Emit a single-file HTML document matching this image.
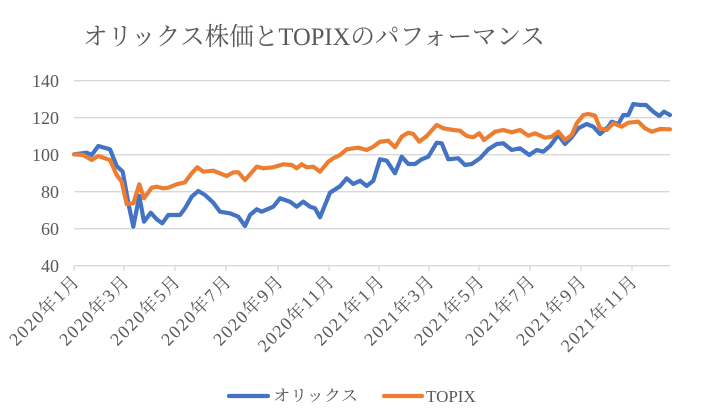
<!DOCTYPE html>
<html><head><meta charset="utf-8"><style>
html,body{margin:0;padding:0;background:#fff;}
svg{display:block;}
text{font-family:"Liberation Serif","Noto Serif CJK JP",serif;fill:#595959;}
</style></head><body>
<svg width="703" height="418" viewBox="0 0 703 418" xmlns="http://www.w3.org/2000/svg">
<rect width="703" height="418" fill="#fff"/>
<text x="83" y="45" font-size="25" textLength="462" lengthAdjust="spacingAndGlyphs">オリックス株価とTOPIXのパフォーマンス</text>
<g stroke="#d9d9d9" stroke-width="1.3">
<line x1="74" x2="670" y1="80.7" y2="80.7"/>
<line x1="74" x2="670" y1="117.7" y2="117.7"/>
<line x1="74" x2="670" y1="154.7" y2="154.7"/>
<line x1="74" x2="670" y1="191.7" y2="191.7"/>
<line x1="74" x2="670" y1="228.7" y2="228.7"/>
<line x1="74" x2="670" y1="265.7" y2="265.7"/>
<line x1="74" x2="74" y1="265.7" y2="271"/><line x1="124" x2="124" y1="265.7" y2="271"/><line x1="175" x2="175" y1="265.7" y2="271"/><line x1="226" x2="226" y1="265.7" y2="271"/><line x1="278" x2="278" y1="265.7" y2="271"/><line x1="329" x2="329" y1="265.7" y2="271"/><line x1="379" x2="379" y1="265.7" y2="271"/><line x1="429" x2="429" y1="265.7" y2="271"/><line x1="479" x2="479" y1="265.7" y2="271"/><line x1="530" x2="530" y1="265.7" y2="271"/><line x1="581" x2="581" y1="265.7" y2="271"/><line x1="632" x2="632" y1="265.7" y2="271"/>
</g>
<g font-size="18" text-anchor="end">
<text x="59" y="87">140</text><text x="59" y="124">120</text><text x="59" y="161">100</text><text x="59" y="198">80</text><text x="59" y="235">60</text><text x="59" y="272">40</text>
</g>
<g font-size="18" text-anchor="end" lengthAdjust="spacingAndGlyphs">
<text transform="translate(80,283) rotate(-45)" textLength="90">2020年1月</text>
<text transform="translate(130,283) rotate(-45)" textLength="90">2020年3月</text>
<text transform="translate(181,283) rotate(-45)" textLength="90">2020年5月</text>
<text transform="translate(232,283) rotate(-45)" textLength="90">2020年7月</text>
<text transform="translate(284,283) rotate(-45)" textLength="90">2020年9月</text>
<text transform="translate(335,283) rotate(-45)" textLength="99">2020年11月</text>
<text transform="translate(385,283) rotate(-45)" textLength="90">2021年1月</text>
<text transform="translate(435,283) rotate(-45)" textLength="90">2021年3月</text>
<text transform="translate(485,283) rotate(-45)" textLength="90">2021年5月</text>
<text transform="translate(536,283) rotate(-45)" textLength="90">2021年7月</text>
<text transform="translate(587,283) rotate(-45)" textLength="90">2021年9月</text>
<text transform="translate(638,283) rotate(-45)" textLength="99">2021年11月</text>
</g>
<polyline fill="none" stroke="#4472c4" stroke-width="4.2" stroke-linejoin="round" stroke-linecap="round" points="74,154.3 86.7,152.7 91.7,155 98.3,146 110,149.3 116.7,166 122.7,171.7 128.3,203 133.3,226.7 139.3,196 144,221.7 150.7,212.7 156.7,219.3 162.3,223.3 168.3,215 180,215 185,208.3 191.7,196.7 198.3,191 205,195 213.3,202.7 220,211.7 230,213.3 238.3,216.7 245,226 250,215 256.7,209.3 261.7,211.7 273.3,206.7 280,198.3 290,201.7 296.7,206.7 303.3,201.7 310,206.7 315,208.3 320,217.3 330,192.7 340,186.3 346.7,178.3 353.3,184 360,180.7 366.7,186 373.3,180.7 380,159.3 386.7,160.7 395,173.3 401.7,156.7 408.3,164 415,164 421.7,159.3 428.3,156.7 436.7,142.7 441.7,143.3 448.3,159.3 458.3,158.3 465,165 471.7,164 480,158.3 488.3,149.3 496.7,144 503.3,143.3 511.7,150 520,148.3 529.3,155 536.7,150 543.3,151.7 550,146 558.3,135 565,144 571.7,137.3 578.3,128.3 586.7,124 593.3,126.7 600,134 608.3,126.7 611.7,121.7 618.3,124 623.3,115 628.3,115 633.3,104 640,105 646,105 653.3,111.7 659.3,116 664,111.7 670,115"/>
<polyline fill="none" stroke="#ed7d31" stroke-width="4.2" stroke-linejoin="round" stroke-linecap="round" points="74,154.3 83.3,155 91.7,160 98.3,156 110,160 116.7,175 121.7,181.7 126.7,204 133.3,203.3 139.3,184.3 144,198.3 151.7,187.7 156.7,186.7 163.3,188.3 168.3,187.7 176.7,184.3 185,182.3 191.7,173.3 197.3,167.3 203.3,171.7 213.3,170.7 226.7,176 233.3,172.3 238.3,172.3 245,180 256.7,166.7 263.3,168.3 273.3,167.3 283.3,164.3 291.7,165 296.7,168.3 301.7,164.3 306.7,167.3 313.3,166.7 320,171.7 328.3,161.7 333.3,158.3 340,155 346.7,149.3 358.3,147.7 366.7,150 373.3,146.7 380,141.7 388.3,140.7 395,147.3 401.7,136.7 408.3,132.7 413.3,134 419.3,141.7 426.7,136 436.7,125 443.3,128.3 453.3,130 460,130.7 466.7,136 473.3,137.3 479.3,133.3 484,140 495,131.7 503.3,130 511.7,132.3 520,130 528.3,135.7 535,133.3 545,137.7 551.7,136.7 558.3,131.7 565,140 571.7,135 576.7,123.3 583.3,115 588.3,114 595,115.7 600,128.3 606.7,130 613.3,123.3 621.7,126.7 628.3,122.7 638.3,121.7 645,128.3 651.7,131.7 660,129 670,129.3"/>
<line x1="229" x2="268" y1="396" y2="396" stroke="#4472c4" stroke-width="4.2" stroke-linecap="round"/>
<text x="273" y="401" font-size="16" textLength="85" lengthAdjust="spacingAndGlyphs">オリックス</text>
<line x1="384" x2="422" y1="396" y2="396" stroke="#ed7d31" stroke-width="4.2" stroke-linecap="round"/>
<text x="426" y="402" font-size="17">TOPIX</text>
</svg>
</body></html>
